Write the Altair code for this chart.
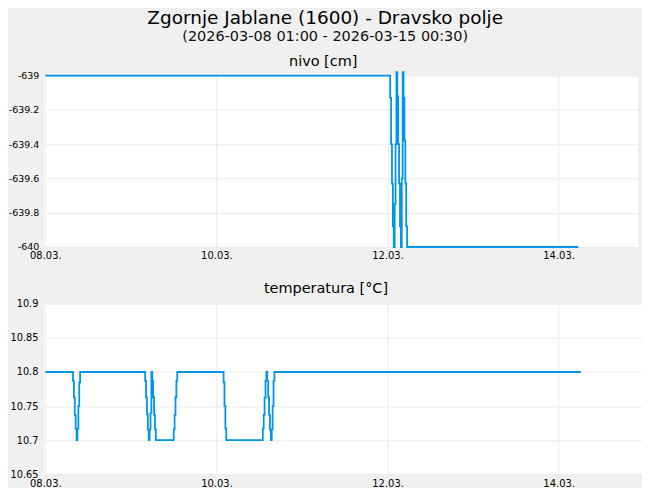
import altair as alt
import pandas as pd

# ---- data ----
nivo_time = [
    "2026-03-08T00:00",
    "2026-03-12T00:45", "2026-03-12T01:00", "2026-03-12T01:15", "2026-03-12T01:30",
    "2026-03-12T01:45", "2026-03-12T02:00", "2026-03-12T02:15", "2026-03-12T02:30",
    "2026-03-12T02:45", "2026-03-12T03:00", "2026-03-12T03:15", "2026-03-12T03:30",
    "2026-03-12T03:45", "2026-03-12T04:00", "2026-03-12T04:15", "2026-03-12T04:30",
    "2026-03-12T04:45", "2026-03-12T05:00", "2026-03-12T05:15", "2026-03-12T05:30",
    "2026-03-14T05:30",
]
nivo_value = [
    -639.0,
    -639.13, -639.40, -639.63, -639.88,
    -640.0, -639.75, -639.40, -638.98,
    -639.12, -639.40, -639.63, -639.88,
    -640.0, -639.6, -638.98, -639.13,
    -639.38, -639.63, -639.88, -640.0,
    -640.0,
]

temp_time = [
    "2026-03-08T00:00",
    "2026-03-08T07:45", "2026-03-08T08:00", "2026-03-08T08:15", "2026-03-08T08:30",
    "2026-03-08T08:45", "2026-03-08T09:00", "2026-03-08T09:15", "2026-03-08T09:30",
    "2026-03-08T09:45",
    "2026-03-09T04:00", "2026-03-09T04:15", "2026-03-09T04:30", "2026-03-09T04:45",
    "2026-03-09T05:00", "2026-03-09T05:15", "2026-03-09T05:30", "2026-03-09T05:45",
    "2026-03-09T06:00", "2026-03-09T06:15", "2026-03-09T06:30", "2026-03-09T06:45",
    "2026-03-09T07:00", "2026-03-09T12:00", "2026-03-09T12:15", "2026-03-09T12:30",
    "2026-03-09T12:45", "2026-03-09T13:00",
    "2026-03-10T02:00", "2026-03-10T02:15", "2026-03-10T02:30", "2026-03-10T02:45",
    "2026-03-10T13:00", "2026-03-10T13:15", "2026-03-10T13:30", "2026-03-10T13:45",
    "2026-03-10T14:00", "2026-03-10T14:15", "2026-03-10T14:30", "2026-03-10T14:45",
    "2026-03-10T15:00", "2026-03-10T15:15", "2026-03-10T15:30", "2026-03-10T15:45",
    "2026-03-10T16:00", "2026-03-10T16:15",
    "2026-03-14T06:15",
]
temp_value = [
    10.80,
    10.787, 10.763, 10.737, 10.717,
    10.70, 10.717, 10.75, 10.785,
    10.80,
    10.787, 10.763, 10.738, 10.716,
    10.70, 10.716, 10.74, 10.80,
    10.787, 10.763, 10.737, 10.716,
    10.70, 10.716, 10.737, 10.763,
    10.787, 10.80,
    10.785, 10.75, 10.717, 10.70,
    10.717, 10.737, 10.762, 10.787,
    10.80, 10.787, 10.763, 10.737,
    10.716, 10.70, 10.716, 10.75,
    10.787, 10.80,
    10.80,
]

x_tick_days = [8, 10, 12, 14]
nivo_ticks = [-640, -639.8, -639.6, -639.4, -639.2, -639]
temp_ticks = [10.65, 10.7, 10.75, 10.8, 10.85, 10.9]

FONT = "DejaVu Sans"
LINE = "#0096e6"
GRID = "#ebebeb"

nivo_df = pd.DataFrame({"t": nivo_time, "v": nivo_value})
temp_df = pd.DataFrame({"t": temp_time, "v": temp_value})

def dt(d, h=0, m=0):
    return alt.DateTime(year=2026, month=3, date=d, hours=h, minutes=m)

def x_axis():
    return alt.Axis(
        values=[dt(d) for d in x_tick_days], format="%d.%m.", title=None,
        ticks=False, domain=False, grid=True, gridColor=GRID,
        labelFont=FONT, labelFontSize=10, labelColor="black", labelPadding=4,
        labelFlush=False,
    )

def y_axis(vals, size, pad):
    return alt.Axis(
        values=vals, format="~g", title=None, ticks=False, domain=False,
        grid=True, gridColor=GRID, labelFont=FONT, labelFontSize=size,
        labelColor="black", labelPadding=pad,
        labelExpr="replace(datum.label, '\u2212', '-')",
    )

def panel_title(text, off):
    return alt.TitleParams(text=text, font=FONT, fontSize=14.5, fontWeight="normal",
                           color="black", anchor="middle", frame="bounds", offset=off)

top = alt.Chart(nivo_df, title=panel_title("nivo [cm]", -0.8)).mark_line(
    interpolate="step-after", color=LINE, strokeWidth=1.8, clip=False
).encode(
    x=alt.X("t:T", scale=alt.Scale(domain=[dt(7, 23, 35), dt(14, 22, 17)]), axis=x_axis()),
    y=alt.Y("v:Q", scale=alt.Scale(domain=[-640, -639], nice=False, zero=False),
            axis=y_axis(nivo_ticks, 9.5, 5)),
).properties(width=596, height=172)

bottom = alt.Chart(temp_df, title=panel_title("temperatura [°C]", 2.1)).mark_line(
    interpolate="step-after", color=LINE, strokeWidth=1.8, clip=False
).encode(
    x=alt.X("t:T", scale=alt.Scale(domain=[dt(7, 23, 35), dt(14, 23, 23)]), axis=x_axis()),
    y=alt.Y("v:Q", scale=alt.Scale(domain=[10.65, 10.9], nice=False, zero=False),
            axis=y_axis(temp_ticks, 9.8, 6)),
).properties(width=600, height=171)

chart = alt.ConcatChart(
    concat=[top, bottom], columns=1, align="none", spacing=20, bounds="full",
).resolve_scale(x="independent", y="independent").properties(
    title=alt.TitleParams(
        text="Zgornje Jablane (1600) - Dravsko polje",
        subtitle="(2026-03-08 01:00 - 2026-03-15 00:30)",
        font=FONT, fontSize=18.5, fontWeight="normal", color="black",
        subtitleFont=FONT, subtitleFontSize=14.5, subtitleColor="#111111",
        anchor="middle", frame="bounds", offset=10, subtitlePadding=3,
    ),
    background="#f0f0f0",
    padding={"left": 0, "right": 0, "top": 0, "bottom": -1},
).configure_view(fill="white", strokeWidth=0)

chart.save("out.html", embed_options={"renderer": "svg", "actions": False})
